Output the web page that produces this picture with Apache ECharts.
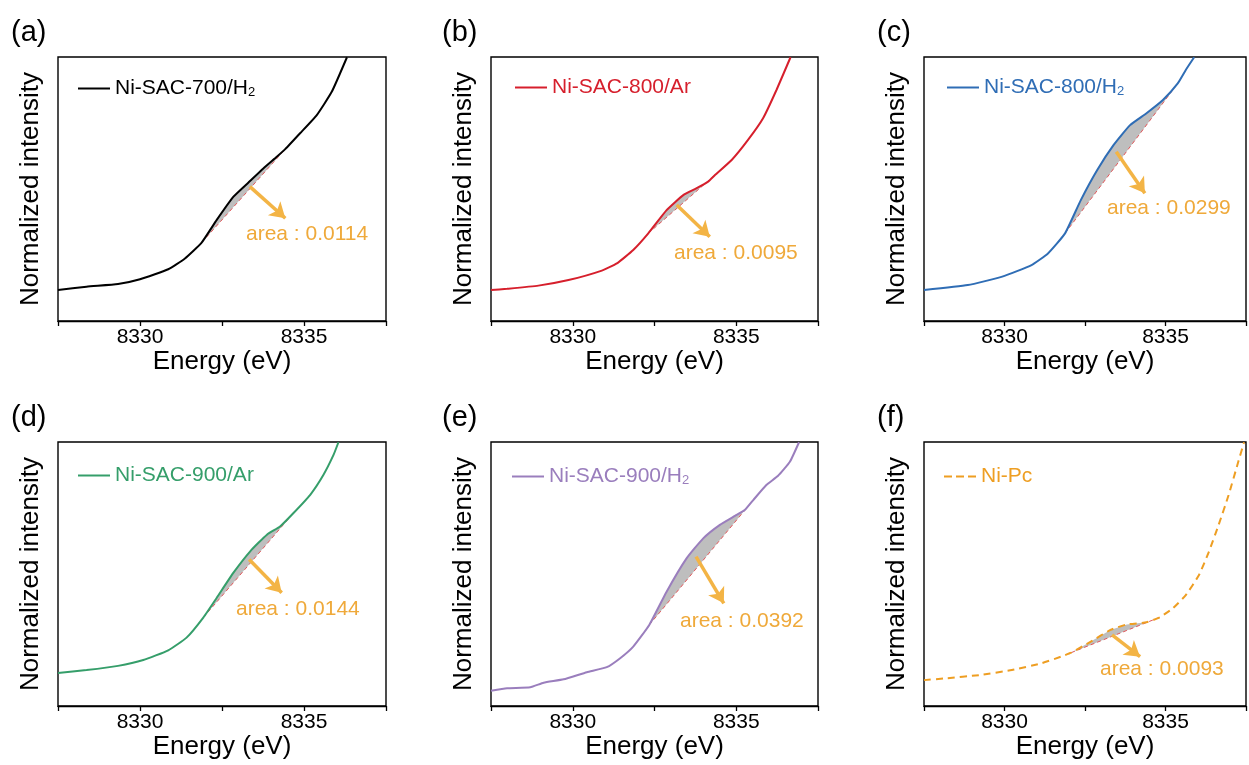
<!DOCTYPE html>
<html>
<head>
<meta charset="utf-8">
<script src="https://cdn.jsdelivr.net/npm/echarts@6/dist/echarts.min.js"></script>
<style>
  html, body { margin: 0; padding: 0; background: #ffffff; }
  #chart { width: 1249px; height: 765px; }
</style>
</head>
<body>
<div id="chart"></div>
<script>
// Ni K-edge XANES pre-edge region, six samples.
// Energies in eV, intensities normalized.

const energyA    = [8327.5, 8328.37, 8329.33, 8330.0, 8330.86, 8331.37, 8331.88, 8332.34, 8332.85, 8333.30, 8333.76, 8334.17, 8334.42, 8334.88, 8335.39, 8335.85, 8336.31];
const intensityA = [0.117, 0.130, 0.140, 0.158, 0.196, 0.237, 0.297, 0.383, 0.471, 0.524, 0.578, 0.622, 0.650, 0.711, 0.780, 0.869, 0.999];

const energyB    = [8327.5, 8327.99, 8328.95, 8329.87, 8330.89, 8331.35, 8331.85, 8332.31, 8332.87, 8333.38, 8333.79, 8334.14, 8334.35, 8334.86, 8335.36, 8335.82, 8336.23, 8336.66];
const intensityB = [0.117, 0.122, 0.134, 0.155, 0.191, 0.218, 0.269, 0.332, 0.420, 0.477, 0.503, 0.528, 0.553, 0.610, 0.686, 0.768, 0.875, 0.999];

const energyC    = [8327.5, 8328.86, 8329.93, 8330.84, 8331.35, 8331.88, 8332.37, 8332.88, 8333.39, 8333.90, 8334.41, 8334.92, 8335.38, 8335.63, 8335.89];
const intensityC = [0.117, 0.136, 0.168, 0.212, 0.256, 0.332, 0.458, 0.572, 0.667, 0.742, 0.787, 0.837, 0.900, 0.951, 0.999];

const energyD    = [8327.5, 8328.37, 8329.33, 8330.10, 8330.86, 8331.42, 8331.93, 8332.34, 8332.85, 8333.36, 8333.87, 8334.27, 8334.68, 8335.19, 8335.59, 8335.90, 8336.05];
const intensityD = [0.125, 0.136, 0.152, 0.174, 0.211, 0.259, 0.335, 0.410, 0.505, 0.586, 0.649, 0.680, 0.731, 0.800, 0.875, 0.951, 0.999];

const energyE    = [8327.5, 8327.99, 8328.70, 8329.11, 8329.72, 8330.43, 8331.04, 8331.45, 8331.85, 8332.34, 8332.87, 8333.48, 8333.99, 8334.50, 8334.96, 8335.26, 8335.52, 8335.92, 8336.28, 8336.64, 8336.92];
const intensityE = [0.058, 0.067, 0.071, 0.088, 0.101, 0.128, 0.147, 0.181, 0.225, 0.307, 0.433, 0.559, 0.635, 0.686, 0.720, 0.742, 0.780, 0.837, 0.872, 0.925, 0.999];

const energyF    = [8327.5, 8328.19, 8329.21, 8330.23, 8331.15, 8331.76, 8332.07, 8332.68, 8333.29, 8333.80, 8334.41, 8334.82, 8335.23, 8335.63, 8336.04, 8336.35, 8336.65, 8336.96, 8337.26, 8337.44];
const intensityF = [0.098, 0.105, 0.117, 0.136, 0.162, 0.187, 0.202, 0.244, 0.288, 0.309, 0.317, 0.336, 0.370, 0.420, 0.496, 0.585, 0.686, 0.799, 0.925, 0.999];

// Linear baseline under the pre-edge shoulder: [start energy, end energy]
const baselineA = [8331.88, 8334.42];
const baselineB = [8332.31, 8334.35];
const baselineC = [8331.88, 8335.38];
const baselineD = [8331.93, 8334.68];
const baselineE = [8332.34, 8335.52];
const baselineF = [8332.07, 8334.82];

// Integrated shoulder areas
const areaValues = [0.0114, 0.0095, 0.0299, 0.0144, 0.0392, 0.0093];

// Pointer arrows (energy, intensity) from tail to head
const arrowA = [[8333.35, 0.509], [8334.43, 0.389]];
const arrowB = [[8333.18, 0.439], [8334.19, 0.319]];
const arrowC = [[8333.47, 0.641], [8334.36, 0.484]];
const arrowD = [[8333.33, 0.555], [8334.32, 0.429]];
const arrowE = [[8333.77, 0.566], [8334.62, 0.389]];
const arrowF = [[8333.34, 0.269], [8334.21, 0.187]];

const sampleNames = ['Ni-SAC-700/H₂', 'Ni-SAC-800/Ar', 'Ni-SAC-800/H₂', 'Ni-SAC-900/Ar', 'Ni-SAC-900/H₂', 'Ni-Pc'];
const panelTags   = ['(a)', '(b)', '(c)', '(d)', '(e)', '(f)'];
const xTicks = { min: 8327.5, max: 8337.5, step: 2.5 };

const FONT = '"Liberation Sans", Arial, Helvetica, sans-serif';
const AREA_TEXT = '#EFA93A';
const ARROW = '#F3B445';

// legend keys: a solid bar or three dashes
const SOLID_KEY  = 'path://M0 0H32V2H0Z';
const DASHED_KEY = 'path://M0 0H8V2H0Z M12 0H20V2H12Z M24 0H32V2H24Z';

const panels = [
  { energy: energyA, intensity: intensityA, base: baselineA, arrow: arrowA, color: '#000000', dashed: false },
  { energy: energyB, intensity: intensityB, base: baselineB, arrow: arrowB, color: '#D61F2C', dashed: false },
  { energy: energyC, intensity: intensityC, base: baselineC, arrow: arrowC, color: '#2F6DB5', dashed: false },
  { energy: energyD, intensity: intensityD, base: baselineD, arrow: arrowD, color: '#359E6A', dashed: false },
  { energy: energyE, intensity: intensityE, base: baselineE, arrow: arrowE, color: '#9A7EBD', dashed: false },
  { energy: energyF, intensity: intensityF, base: baselineF, arrow: arrowF, color: '#EE9E22', dashed: true }
];

// Panel layout (pixels)
const layout = [
  { left: 58,  top: 57,  width: 328, height: 264, legendLeft: 78,  legendTop: 78,  areaX: 246,  areaY: 234, tagX: 11,  tagY: 18 },
  { left: 491, top: 57,  width: 327, height: 264, legendLeft: 515, legendTop: 77,  areaX: 674,  areaY: 253, tagX: 442, tagY: 18 },
  { left: 924, top: 57,  width: 327, height: 264, legendLeft: 947, legendTop: 77,  areaX: 1107, areaY: 208, tagX: 877, tagY: 18 },
  { left: 58,  top: 442, width: 328, height: 264, legendLeft: 78,  legendTop: 465, areaX: 236,  areaY: 609, tagX: 11,  tagY: 403 },
  { left: 491, top: 442, width: 327, height: 264, legendLeft: 512, legendTop: 466, areaX: 680,  areaY: 621, tagX: 442, tagY: 403 },
  { left: 924, top: 442, width: 327, height: 264, legendLeft: 944, legendTop: 466, areaX: 1100, areaY: 669, tagX: 877, tagY: 403 }
];

const grids = [], xAxes = [], yAxes = [], series = [], legends = [], graphics = [];

panels.forEach((p, i) => {
  const L = layout[i];
  const curve = p.energy.map((e, k) => [e, p.intensity[k]]);
  const i0 = p.energy.indexOf(p.base[0]);
  const i1 = p.energy.indexOf(p.base[1]);
  const shoulder = curve.slice(i0, i1 + 1);
  const baseLine = [curve[i0], curve[i1]];

  grids.push({
    left: L.left, top: L.top, width: L.width, height: L.height,
    show: true, borderColor: '#000', borderWidth: 1.4, backgroundColor: 'transparent'
  });

  xAxes.push({
    type: 'value', gridIndex: i,
    min: xTicks.min, max: xTicks.max, interval: xTicks.step,
    name: 'Energy (eV)', nameLocation: 'middle', nameGap: 25,
    nameTextStyle: { fontSize: 26, color: '#000', fontFamily: FONT },
    axisLine: { show: true, lineStyle: { color: '#000', width: 1.4 } },
    axisTick: { show: true, inside: false, length: 5, lineStyle: { color: '#000', width: 1.3 } },
    axisLabel: {
      show: true, fontSize: 21, color: '#000', fontFamily: FONT, margin: 6,
      showMinLabel: true, showMaxLabel: true,
      formatter: v => (Math.abs(v % 5) < 1e-6 ? String(v) : '')
    },
    splitLine: { show: false }
  });

  yAxes.push({
    type: 'value', gridIndex: i, min: 0, max: 1,
    name: 'Normalized intensity', nameLocation: 'middle', nameGap: 14, nameRotate: 90,
    nameTextStyle: { fontSize: 26, color: '#000', fontFamily: FONT },
    axisLine: { show: false }, axisTick: { show: false },
    axisLabel: { show: false }, splitLine: { show: false }
  });

  // grey shoulder between spectrum and linear baseline
  series.push({
    type: 'custom', xAxisIndex: i, yAxisIndex: i, silent: true, z: 1,
    data: [0],
    renderItem: (params, api) => ({
      type: 'polygon',
      shape: { points: shoulder.map(pt => api.coord(pt)) },
      style: { fill: '#BEBEBE', stroke: 'none' }
    })
  });

  // red dashed baseline + orange pointer arrow
  series.push({
    type: 'line', xAxisIndex: i, yAxisIndex: i, silent: true, z: 2,
    data: baseLine, symbol: 'none',
    lineStyle: { color: '#E2575A', width: 1, type: [4, 3] },
    markLine: {
      silent: true, symbol: ['none', 'arrow'], symbolSize: [14, 15],
      lineStyle: { color: ARROW, width: 3.5, type: 'solid' },
      label: { show: false },
      data: [[{ coord: p.arrow[0] }, { coord: p.arrow[1] }]]
    }
  });

  // spectrum
  series.push({
    name: sampleNames[i], type: 'line', xAxisIndex: i, yAxisIndex: i, z: 3,
    data: curve, symbol: 'none', showSymbol: false, smooth: 0.15,
    color: p.color,
    lineStyle: { color: p.color, width: 2, type: p.dashed ? [7, 5] : 'solid' }
  });

  legends.push({
    data: [sampleNames[i]], left: L.legendLeft, top: L.legendTop,
    icon: p.dashed ? DASHED_KEY : SOLID_KEY,
    itemWidth: 32, itemHeight: 2, itemGap: 0, selectedMode: false,
    padding: 0,
    itemStyle: { color: p.color, borderWidth: 0 },
    formatter: n => n.replace('₂', '{sub|2}'),
    textStyle: {
      fontSize: 21, color: p.color, fontFamily: FONT,
      rich: { sub: { fontSize: 13, color: p.color, fontFamily: FONT, verticalAlign: 'bottom' } }
    }
  });

  graphics.push({
    type: 'text', x: L.areaX, y: L.areaY, silent: true,
    style: {
      text: 'area : ' + areaValues[i].toFixed(4),
      fontSize: 21, fontFamily: FONT, fill: AREA_TEXT, verticalAlign: 'middle'
    }
  });
  graphics.push({
    type: 'text', x: L.tagX, y: L.tagY, silent: true,
    style: { text: panelTags[i], fontSize: 29, fontFamily: FONT, fill: '#000' }
  });
});

const chart = echarts.init(document.getElementById('chart'), null, { renderer: 'canvas' });
chart.setOption({
  animation: false,
  backgroundColor: '#ffffff',
  grid: grids,
  xAxis: xAxes,
  yAxis: yAxes,
  legend: legends,
  series: series,
  graphic: graphics
});
</script>
</body>
</html>
